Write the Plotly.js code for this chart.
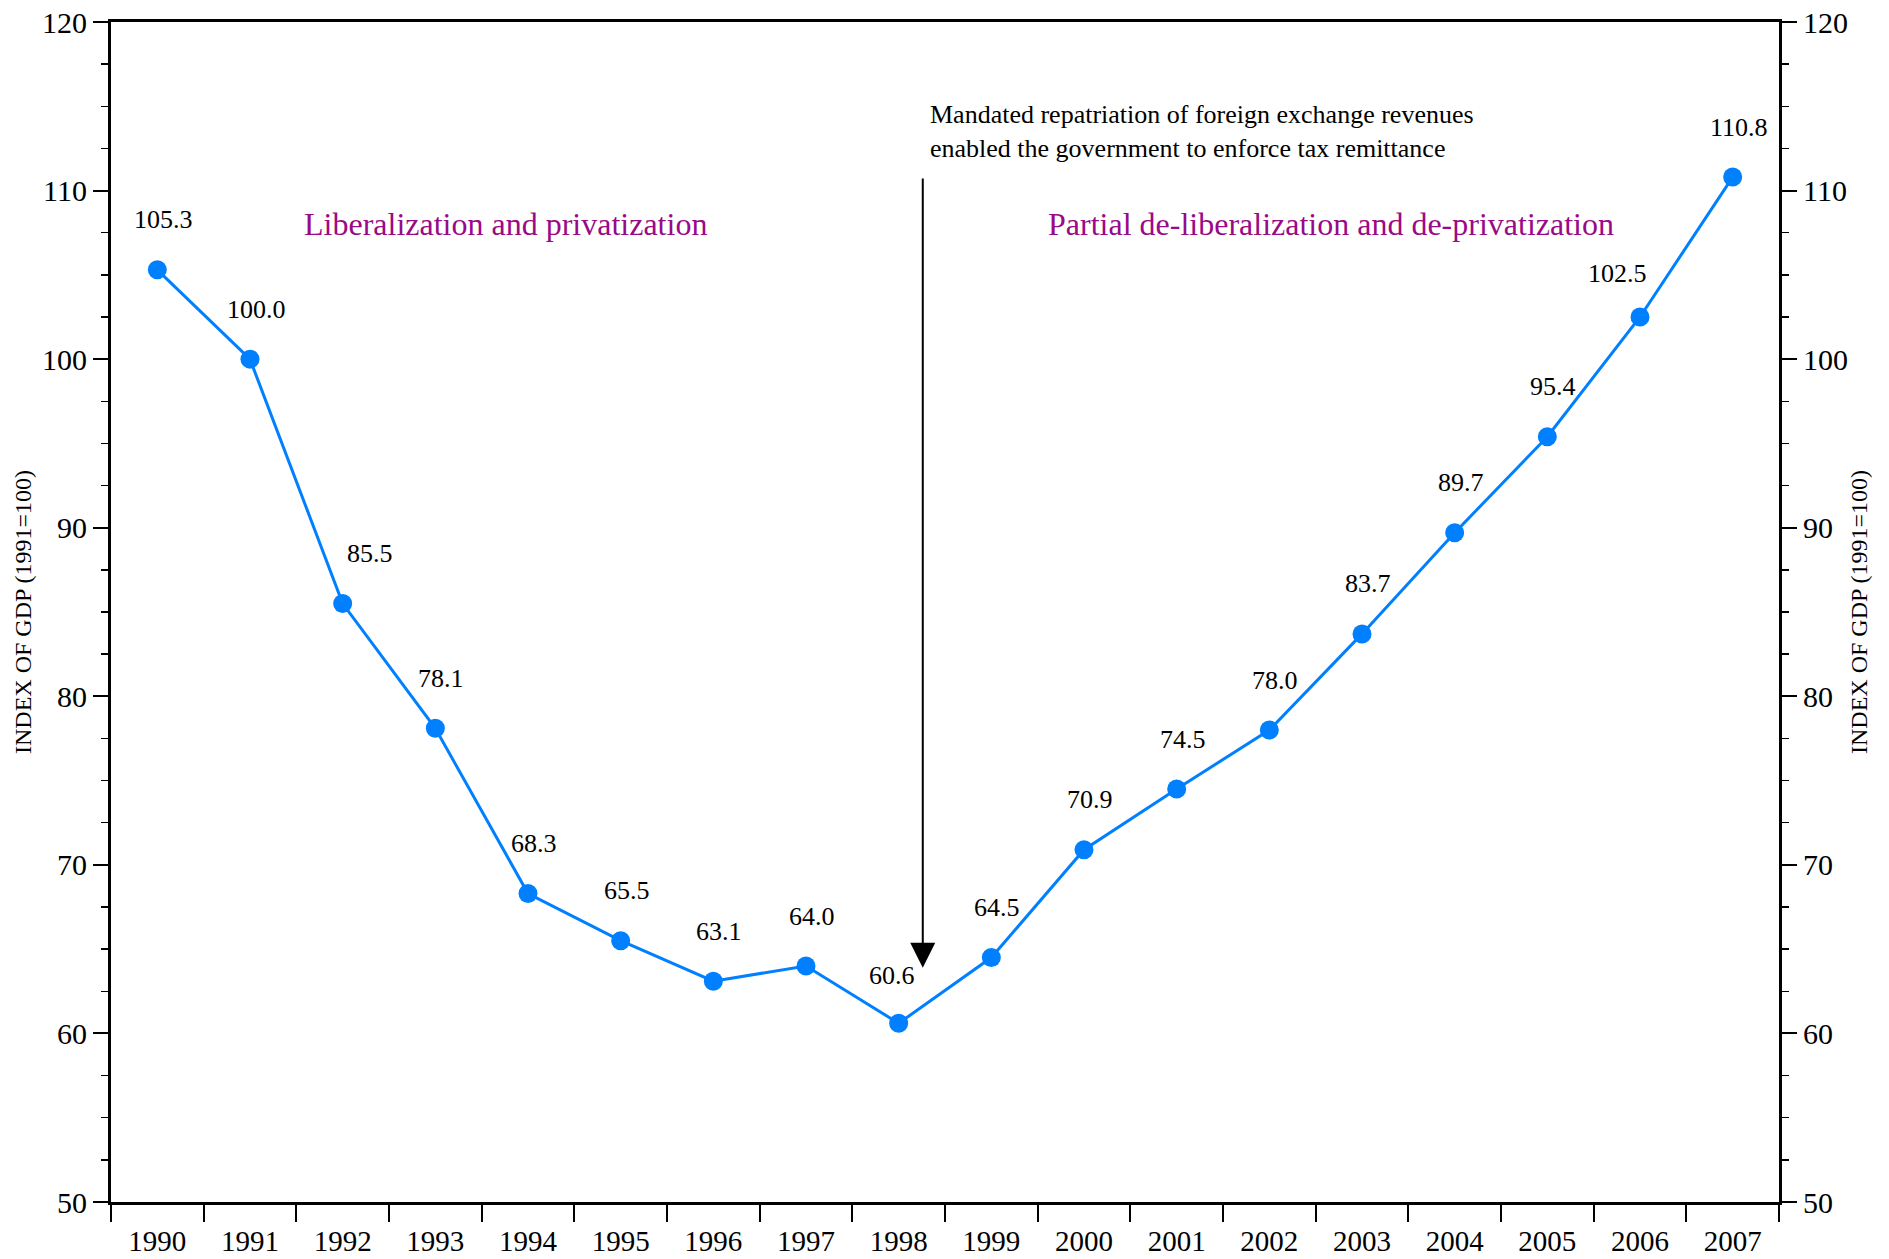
<!DOCTYPE html>
<html>
<head>
<meta charset="utf-8">
<script src="https://cdn.plot.ly/plotly-3.0.1.min.js"></script>
<style>html,body{margin:0;padding:0;background:#fff;}#chart{width:1889px;height:1259px;}</style>
</head>
<body>
<div id="chart"></div>
<script>
const years = ["1990","1991","1992","1993","1994","1995","1996","1997","1998","1999","2000","2001","2002","2003","2004","2005","2006","2007"];
const gdpIndex = [105.3,100.0,85.5,78.1,68.3,65.5,63.1,64.0,60.6,64.5,70.9,74.5,78.0,83.7,89.7,95.4,102.5,110.8];
const yTickVals = [50,60,70,80,90,100,110,120];
const regionLabels = ["Liberalization and privatization","Partial de-liberalization and de-privatization"];
const noteText = "Mandated repatriation of foreign exchange revenues<br>enabled the government to enforce tax remittance";
const yTitle = "INDEX OF GDP (1991=100)";

const FONT = "Liberation Serif, Times New Roman, serif";
const BLUE = "rgb(0,128,255)";
const PURPLE = "#990a88";

const labelShift = {"1992":[27,50],"1998":[-7,48],"2006":[-23,44]};

const annotations = [];
years.forEach((yr,i)=>{
  const s = labelShift[yr] || [6,50];
  annotations.push({
    x: i, y: gdpIndex[i], xref:"x", yref:"y",
    text: gdpIndex[i].toFixed(1), showarrow:false,
    xanchor:"center", yanchor:"middle",
    xshift: s[0], yshift: s[1],
    font:{family:FONT,size:26,color:"#000"}
  });
});

annotations.push({x:3.76,y:108,xref:"x",yref:"y",text:regionLabels[0],showarrow:false,
  xanchor:"center",yanchor:"middle",font:{family:FONT,size:32,color:PURPLE}});
annotations.push({x:12.67,y:108,xref:"x",yref:"y",text:regionLabels[1],showarrow:false,
  xanchor:"center",yanchor:"middle",font:{family:FONT,size:32,color:PURPLE}});
annotations.push({x:8.32,y:113.5,xref:"x",yref:"y",text:noteText,showarrow:false,
  xanchor:"left",yanchor:"middle",align:"left",font:{family:FONT,size:26,color:"#000"}});
annotations.push({x:8.26,y:63.9,ax:8.26,ay:110.8,xref:"x",yref:"y",axref:"x",ayref:"y",
  text:"",showarrow:true,arrowhead:2,arrowsize:2.5,arrowwidth:2,arrowcolor:"#000"});

const traces = [
  {x:years,y:gdpIndex,type:"scatter",mode:"lines+markers",
   line:{color:BLUE,width:3},marker:{color:BLUE,size:19},hoverinfo:"skip",showlegend:false},
  {x:years,y:gdpIndex,yaxis:"y2",type:"scatter",mode:"markers",
   marker:{opacity:0,size:1},hoverinfo:"skip",showlegend:false}
];

const yCommon = {
  range:[50,120], tickvals:yTickVals, ticks:"outside", ticklen:15, tickwidth:2, tickcolor:"#000",
  showline:true, linewidth:3, linecolor:"#000", showgrid:false, zeroline:false,
  tickfont:{family:FONT,size:30,color:"#000"},
  minor:{dtick:2.5, ticks:"outside", ticklen:7, tickwidth:1.3, tickcolor:"#000", showgrid:false},
  title:{text:yTitle, font:{family:FONT,size:24,color:"#000"}, standoff:4}
};

const layout = {
  width:1889, height:1259,
  margin:{l:111,r:110,t:22,b:57},
  paper_bgcolor:"#fff", plot_bgcolor:"#fff",
  showlegend:false,
  xaxis:{type:"category", range:[-0.5,17.5], tickson:"boundaries", ticks:"outside", ticklen:17, tickwidth:2,
    tickcolor:"#000", showline:true, linewidth:3, linecolor:"#000", mirror:true, showgrid:false, zeroline:false,
    ticklabelstandoff:11,
    tickfont:{family:FONT,size:29,color:"#000"}},
  yaxis: Object.assign({}, yCommon, {side:"left"}),
  yaxis2: Object.assign({}, yCommon, {side:"right", overlaying:"y", anchor:"x"}),
  annotations: annotations
};

Plotly.newPlot("chart", traces, layout, {staticPlot:true});
</script>
</body>
</html>
